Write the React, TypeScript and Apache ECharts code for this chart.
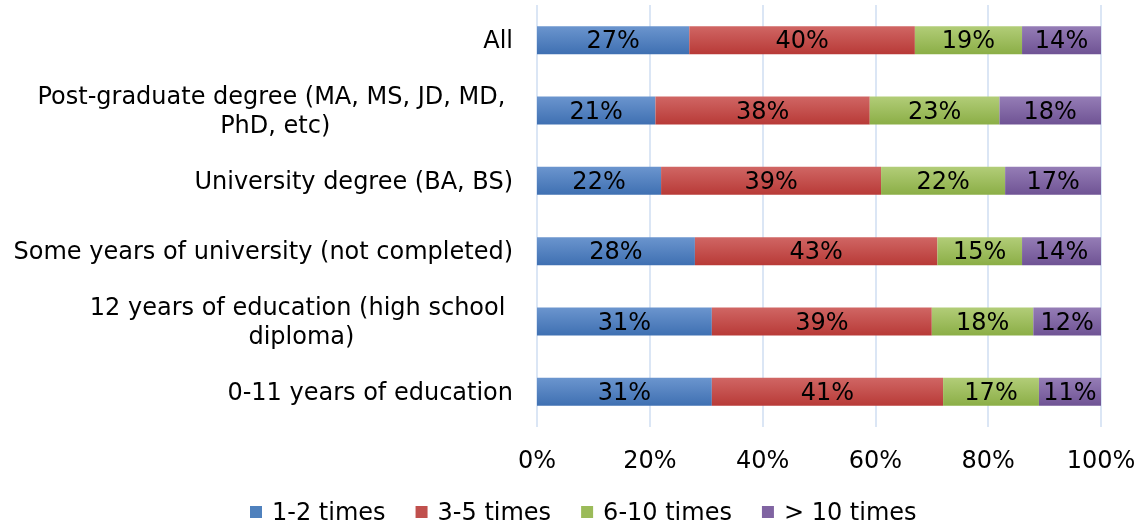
import React, { useEffect, useRef } from "react";
import * as echarts from "echarts";

const categories = [
  "All",
  "Post-graduate degree (MA, MS, JD, MD,\nPhD, etc)",
  "University degree (BA, BS)",
  "Some years of university (not completed)",
  "12 years of education (high school\ndiploma)",
  "0-11 years of education",
];
const seriesNames = ["1-2 times", "3-5 times", "6-10 times", "> 10 times"];
const s12 = [27, 21, 22, 28, 31, 31];
const s35 = [40, 38, 39, 43, 39, 41];
const s610 = [19, 23, 22, 15, 18, 17];
const s10 = [14, 18, 17, 14, 12, 11];
const xTicks = [0, 20, 40, 60, 80, 100];

const colors = [
  ["#6B95CE", "#3F70B2"],
  ["#D06664", "#B83A37"],
  ["#B2CD78", "#8BAE46"],
  ["#957DB6", "#6F5394"],
];
const legendColors = ["#4F81BD", "#C0504D", "#9BBB59", "#8064A2"];

const FONT = "DejaVu Sans";
const FS = 24;

export default function App() {
  const ref = useRef<HTMLDivElement>(null);
  useEffect(() => {
    document.body.style.margin = "0";
    const chart = echarts.init(ref.current!, null, { renderer: "svg" });
    const data = [s12, s35, s610, s10];
    chart.setOption({
      animation: false,
      textStyle: { fontFamily: FONT },
      legend: {
        top: 498,
        left: 250,
        padding: 0,
        itemWidth: 12,
        itemHeight: 12,
        itemGap: 30,
        icon: "rect",
        textStyle: { fontFamily: FONT, fontSize: FS, lineHeight: 28, color: "#000", padding: [0, 0, 0, 5] },
        data: seriesNames.map((n, i) => ({ name: n, itemStyle: { color: legendColors[i] } })),
      },
      grid: { left: 537, right: 42, top: 5, bottom: 99 },
      xAxis: {
        type: "value",
        min: 0,
        max: 100,
        interval: 20,
        axisLine: { show: false },
        axisTick: { show: false },
        splitLine: { lineStyle: { color: "#CFDEF2", width: 1.5 } },
        axisLabel: {
          margin: 21,
          fontSize: FS,
          color: "#000",
          fontFamily: FONT,
          formatter: (v: number) => (xTicks.includes(v) ? v + "%" : ""),
        },
      },
      yAxis: {
        type: "category",
        inverse: true,
        data: categories,
        axisLine: { show: false },
        axisTick: { show: false },
        axisLabel: {
          margin: 24,
          fontSize: FS,
          color: "#000",
          fontFamily: FONT,
          align: "right",
          formatter: (v: string) => {
            const lines = v.split("\n");
            return lines
              .map((l, i) => `{c|${i < lines.length - 1 ? l + " " : l}}`)
              .join("\n");
          },
          rich: { c: { fontSize: FS, fontFamily: FONT, color: "#000", align: "center", lineHeight: 29 } },
        },
      },
      series: data.map((d, i) => ({
        name: seriesNames[i],
        type: "bar",
        stack: "total",
        barWidth: 28,
        data: d,
        itemStyle: {
          color: new echarts.graphic.LinearGradient(0, 0, 0, 1, [
            { offset: 0, color: colors[i][0] },
            { offset: 1, color: colors[i][1] },
          ]),
        },
        label: {
          show: true,
          position: "inside",
          formatter: "{c}%",
          fontSize: FS,
          fontFamily: FONT,
          color: "#000",
        },
      })),
    });
    return () => chart.dispose();
  }, []);
  return <div ref={ref} style={{ position: "fixed", left: 0, top: 0, width: 1143, height: 526 }} />;
}
